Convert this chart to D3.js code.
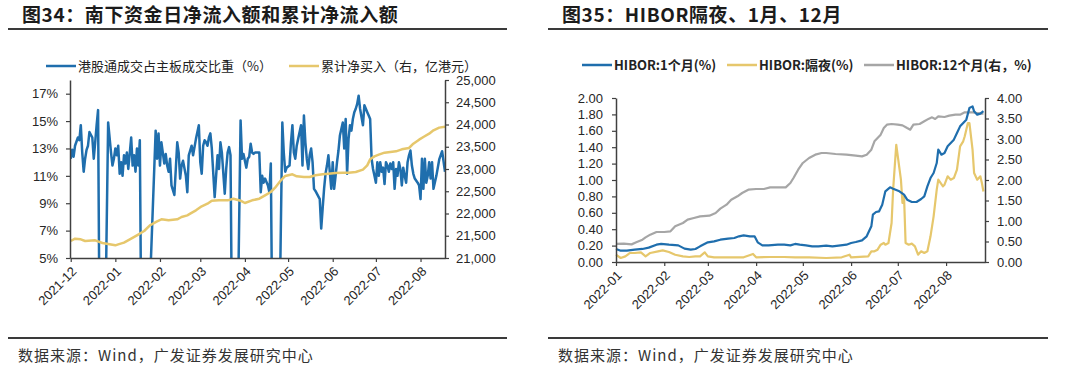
<!DOCTYPE html>
<html>
<head>
<meta charset="utf-8">
<script src="https://cdn.jsdelivr.net/npm/d3@7"></script>
<style>
body { margin: 0; background: #fff; }
svg { display: block; }
</style>
</head>
<body>
<svg id="chart" width="1080" height="375"></svg>
<script>
// ---- data: left panel (图34) ----
var shareSeries = [
	["2021-12-01",12.25],["2021-12-02",12.9],["2021-12-03",12.4],["2021-12-04",13.2],["2021-12-06",13.8],["2021-12-07",13.6],
	["2021-12-08",14.7],["2021-12-09",12.7],["2021-12-10",11.3],["2021-12-11",12.25],["2021-12-12",12.9],["2021-12-13",13.2],
	["2021-12-14",14.2],["2021-12-16",13.8],["2021-12-17",12.25],["2021-12-18",13.45],["2021-12-19",14.7],["2021-12-20",15.8],
	["2021-12-21",0],["2021-12-25",0],["2021-12-27",14.9],["2021-12-29",12.7],["2021-12-30",11.75],["2021-12-31",12.25],
	["2022-01-01",13.0],["2022-01-02",12.5],["2022-01-03",13.2],["2022-01-04",11.15],["2022-01-05",12.0],["2022-01-06",11.0],
	["2022-01-07",12.5],["2022-01-08",11.9],["2022-01-09",12.7],["2022-01-10",11.5],["2022-01-12",13.8],["2022-01-13",11.75],
	["2022-01-14",12.5],["2022-01-15",11.3],["2022-01-16",13.0],["2022-01-17",11.75],["2022-01-18",13.6],["2022-01-19",0],
	["2022-01-24",0],["2022-01-29",14.3],["2022-01-30",12.25],["2022-01-31",14.1],
	["2022-02-01",11.75],["2022-02-02",13.45],["2022-02-04",11.9],["2022-02-05",12.6],["2022-02-06",11.75],["2022-02-07",11.3],
	["2022-02-08",12.25],["2022-02-09",10.3],["2022-02-11",9.6],["2022-02-12",11.5],["2022-02-13",13.45],["2022-02-14",12.7],
	["2022-02-15",10.8],["2022-02-16",11.75],["2022-02-17",12.1],["2022-02-19",11.0],["2022-02-20",9.8],["2022-02-21",12.5],
	["2022-02-23",13.2],["2022-02-24",12.5],["2022-02-25",13.1],["2022-02-26",13.7],["2022-02-28",14.7],
	["2022-03-01",12.0],["2022-03-02",11.15],["2022-03-03",13.2],["2022-03-04",13.6],["2022-03-05",13.45],["2022-03-06",13.2],
	["2022-03-07",13.8],["2022-03-08",14.1],["2022-03-09",13.0],["2022-03-11",9.45],["2022-03-12",11.0],["2022-03-13",12.5],
	["2022-03-14",11.5],["2022-03-15",13.45],["2022-03-16",12.7],["2022-03-18",9.7],["2022-03-19",11.5],["2022-03-20",12.7],
	["2022-03-21",13.1],["2022-03-22",12.5],["2022-03-23",0],["2022-03-27",0],["2022-03-29",15.05],["2022-03-30",12.25],
	["2022-03-31",12.6],
	["2022-04-02",11.6],["2022-04-03",12.25],["2022-04-04",12.4],["2022-04-05",13.35],["2022-04-06",12.7],["2022-04-07",12.6],
	["2022-04-08",12.7],["2022-04-10",12.7],["2022-04-11",12.7],["2022-04-12",9.8],["2022-04-13",11.0],["2022-04-14",10.5],
	["2022-04-15",10.8],["2022-04-17",10.3],["2022-04-18",9.8],["2022-04-19",11.9],["2022-04-20",0],["2022-04-25",0],
	["2022-04-27",14.9],["2022-04-28",12.7],["2022-04-29",11.3],["2022-04-30",11.6],
	["2022-05-02",11.75],["2022-05-03",13.45],["2022-05-04",14.7],["2022-05-05",12.7],["2022-05-06",12.25],["2022-05-07",13.2],
	["2022-05-08",13.7],["2022-05-10",14.7],["2022-05-11",11.75],["2022-05-12",15.4],["2022-05-13",13.45],["2022-05-14",12.25],
	["2022-05-15",11.5],["2022-05-16",12.5],["2022-05-17",13.0],["2022-05-18",12.0],["2022-05-19",10.05],["2022-05-20",9.9],
	["2022-05-21",9.7],["2022-05-23",9.3],["2022-05-24",7.15],["2022-05-25",8.6],["2022-05-26",10.05],["2022-05-27",11.15],
	["2022-05-28",11.75],["2022-05-29",12.5],["2022-05-31",10.05],
	["2022-06-01",12.0],["2022-06-02",10.05],["2022-06-03",11.0],["2022-06-04",12.0],["2022-06-05",12.85],["2022-06-06",13.95],
	["2022-06-08",14.9],["2022-06-09",13.0],["2022-06-10",15.15],["2022-06-11",11.15],["2022-06-12",13.7],["2022-06-13",14.7],
	["2022-06-14",14.3],["2022-06-15",15.15],["2022-06-16",15.65],["2022-06-17",15.9],["2022-06-18",16.25],["2022-06-19",16.85],
	["2022-06-20",15.9],["2022-06-22",14.7],["2022-06-23",16.15],["2022-06-24",15.9],["2022-06-25",15.65],["2022-06-26",15.4],
	["2022-06-27",15.15],["2022-06-28",12.25],["2022-06-29",11.5],["2022-06-30",11.0],
	["2022-07-01",10.5],["2022-07-02",12.0],["2022-07-03",11.0],["2022-07-04",12.0],["2022-07-05",11.3],["2022-07-06",11.6],
	["2022-07-07",10.4],["2022-07-08",12.0],["2022-07-09",11.75],["2022-07-10",11.3],["2022-07-11",11.9],["2022-07-12",11.5],
	["2022-07-13",12.0],["2022-07-14",10.05],["2022-07-15",11.5],["2022-07-16",11.0],["2022-07-17",12.0],["2022-07-18",11.5],
	["2022-07-19",10.3],["2022-07-20",11.6],["2022-07-21",11.0],["2022-07-22",10.5],["2022-07-23",12.0],["2022-07-24",12.5],
	["2022-07-25",12.85],["2022-07-26",11.75],["2022-07-27",11.15],["2022-07-28",10.8],["2022-07-30",10.5],["2022-07-31",10.3],
	["2022-08-01",9.3],["2022-08-02",12.25],["2022-08-03",10.05],["2022-08-04",12.25],["2022-08-05",10.5],["2022-08-06",11.0],
	["2022-08-07",12.0],["2022-08-08",10.8],["2022-08-09",12.0],["2022-08-10",10.05],["2022-08-12",11.0],["2022-08-14",12.2],
	["2022-08-16",12.8],["2022-08-18",11.3]
];

var netBuySeries = [
	["2021-12-01",21382],["2021-12-04",21434],["2021-12-08",21420],["2021-12-11",21382],["2021-12-18",21397],["2021-12-23",21337],
	["2021-12-28",21307],["2022-01-01",21285],["2022-01-03",21307],["2022-01-07",21345],["2022-01-12",21434],["2022-01-16",21509],
	["2022-01-21",21607],["2022-01-25",21734],["2022-01-30",21824],["2022-02-02",21869],["2022-02-07",21846],["2022-02-13",21869],
	["2022-02-16",21921],["2022-02-20",21959],["2022-02-22",21996],["2022-02-26",22071],["2022-03-02",22161],["2022-03-06",22221],
	["2022-03-09",22288],["2022-03-14",22296],["2022-03-20",22296],["2022-03-24",22333],["2022-03-29",22288],["2022-04-01",22236],
	["2022-04-06",22296],["2022-04-11",22333],["2022-04-15",22408],["2022-04-19",22483],["2022-04-22",22580],["2022-04-26",22745],
	["2022-04-29",22843],["2022-05-04",22880],["2022-05-07",22835],["2022-05-12",22820],["2022-05-16",22820],["2022-05-20",22858],
	["2022-05-25",22880],["2022-05-29",22895],["2022-06-03",22910],["2022-06-08",22917],["2022-06-12",22917],["2022-06-17",22932],
	["2022-06-22",22985],["2022-06-25",23082],["2022-06-27",23217],["2022-06-30",23284],["2022-07-03",23322],["2022-07-07",23367],
	["2022-07-11",23382],["2022-07-15",23397],["2022-07-19",23442],["2022-07-24",23472],["2022-07-27",23569],["2022-07-31",23659],
	["2022-08-03",23719],["2022-08-07",23794],["2022-08-10",23869],["2022-08-14",23930],["2022-08-18",23950]
];

var leftMonths = ["2021-12-01","2022-01-01","2022-02-01","2022-03-01","2022-04-01","2022-05-01","2022-06-01","2022-07-01","2022-08-01"];
var shareTicks = [5, 7, 9, 11, 13, 15, 17];
var netBuyTicks = [21000, 21500, 22000, 22500, 23000, 23500, 24000, 24500, 25000];

// ---- data: right panel (图35) ----
var hibor1m = [
	["2022-01-01",0.159],["2022-01-04",0.138],["2022-01-08",0.138],["2022-01-13",0.150],["2022-01-18",0.159],["2022-01-22",0.175],
	["2022-01-27",0.211],["2022-01-30",0.220],["2022-02-04",0.211],["2022-02-10",0.203],["2022-02-14",0.163],["2022-02-18",0.150],
	["2022-02-21",0.159],["2022-02-24",0.191],["2022-03-01",0.240],["2022-03-05",0.252],["2022-03-09",0.272],["2022-03-14",0.285],
	["2022-03-18",0.293],["2022-03-21",0.313],["2022-03-24",0.325],["2022-03-28",0.313],["2022-03-31",0.313],["2022-04-02",0.240],
	["2022-04-05",0.203],["2022-04-09",0.203],["2022-04-15",0.211],["2022-04-19",0.211],["2022-04-23",0.203],["2022-04-26",0.220],
	["2022-04-29",0.211],["2022-05-03",0.203],["2022-05-07",0.191],["2022-05-11",0.191],["2022-05-16",0.199],["2022-05-20",0.191],
	["2022-05-24",0.199],["2022-05-29",0.211],["2022-06-01",0.232],["2022-06-04",0.244],["2022-06-08",0.264],["2022-06-11",0.313],
	["2022-06-14",0.435],["2022-06-15",0.577],["2022-06-17",0.610],["2022-06-19",0.618],["2022-06-21",0.699],["2022-06-23",0.862],
	["2022-06-26",0.911],["2022-06-28",0.894],["2022-07-02",0.862],["2022-07-05",0.821],["2022-07-07",0.760],["2022-07-10",0.732],
	["2022-07-13",0.732],["2022-07-16",0.768],["2022-07-18",0.801],["2022-07-20",0.923],["2022-07-22",1.024],["2022-07-24",1.085],
	["2022-07-26",1.207],["2022-07-27",1.370],["2022-07-29",1.309],["2022-07-31",1.329],["2022-08-02",1.411],["2022-08-04",1.451],
	["2022-08-06",1.492],["2022-08-08",1.573],["2022-08-10",1.654],["2022-08-12",1.695],["2022-08-14",1.736],["2022-08-16",1.878],
	["2022-08-18",1.898],["2022-08-19",1.837],["2022-08-21",1.797],["2022-08-23",1.809],["2022-08-24",1.825],["2022-08-25",1.84]
];

var hiborON = [
	["2022-01-01",0.089],["2022-01-04",0.049],["2022-01-07",0.069],["2022-01-10",0.110],["2022-01-13",0.110],["2022-01-17",0.118],
	["2022-01-20",0.069],["2022-01-23",0.110],["2022-01-28",0.130],["2022-01-31",0.142],["2022-02-04",0.122],["2022-02-08",0.089],
	["2022-02-13",0.069],["2022-02-17",0.061],["2022-02-21",0.069],["2022-02-24",0.069],["2022-02-27",0.118],["2022-03-01",0.069],
	["2022-03-05",0.057],["2022-03-14",0.057],["2022-03-24",0.057],["2022-03-30",0.098],["2022-04-01",0.057],["2022-04-10",0.061],
	["2022-04-19",0.061],["2022-04-26",0.057],["2022-05-05",0.057],["2022-05-16",0.049],["2022-05-26",0.057],["2022-05-31",0.089],
	["2022-06-01",0.057],["2022-06-12",0.069],["2022-06-14",0.130],["2022-06-16",0.130],["2022-06-18",0.150],["2022-06-20",0.211],
	["2022-06-22",0.232],["2022-06-23",0.211],["2022-06-25",0.232],["2022-06-27",0.476],["2022-06-28",0.882],["2022-06-30",1.430],
	["2022-07-01",1.289],["2022-07-03",1.004],["2022-07-04",0.720],["2022-07-05",0.801],["2022-07-06",0.232],["2022-07-08",0.211],
	["2022-07-10",0.224],["2022-07-12",0.191],["2022-07-14",0.089],["2022-07-16",0.130],["2022-07-18",0.110],["2022-07-20",0.130],
	["2022-07-22",0.313],["2022-07-24",0.557],["2022-07-26",0.882],["2022-07-27",1.004],["2022-07-30",0.923],["2022-07-31",0.943],
	["2022-08-02",1.045],["2022-08-04",1.004],["2022-08-06",1.024],["2022-08-08",1.126],["2022-08-10",1.411],["2022-08-12",1.472],
	["2022-08-13",1.533],["2022-08-15",1.695],["2022-08-16",1.695],["2022-08-18",1.370],["2022-08-19",1.085],["2022-08-21",1.004],
	["2022-08-23",1.045],["2022-08-24",0.963],["2022-08-25",0.86]
];

var hibor12m = [
	["2022-01-01",0.44],["2022-01-06",0.45],["2022-01-11",0.43],["2022-01-14",0.48],["2022-01-18",0.545],["2022-01-20",0.60],
	["2022-01-23",0.667],["2022-01-27",0.732],["2022-02-01",0.732],["2022-02-05",0.748],["2022-02-08",0.870],["2022-02-13",0.951],
	["2022-02-16",1.033],["2022-02-20",1.073],["2022-02-24",1.114],["2022-03-02",1.130],["2022-03-06",1.195],["2022-03-09",1.301],
	["2022-03-13",1.398],["2022-03-16",1.520],["2022-03-20",1.602],["2022-03-23",1.683],["2022-03-27",1.764],["2022-04-01",1.780],
	["2022-04-06",1.780],["2022-04-10",1.821],["2022-04-15",1.821],["2022-04-20",1.821],["2022-04-23",1.927],["2022-04-25",2.049],
	["2022-04-28",2.252],["2022-05-01",2.415],["2022-05-05",2.537],["2022-05-09",2.618],["2022-05-13",2.659],["2022-05-16",2.659],
	["2022-05-22",2.634],["2022-05-29",2.618],["2022-06-04",2.593],["2022-06-08",2.577],["2022-06-11",2.618],["2022-06-14",2.740],
	["2022-06-16",2.943],["2022-06-18",3.024],["2022-06-20",3.106],["2022-06-22",3.268],["2022-06-24",3.350],["2022-06-27",3.366],
	["2022-07-01",3.350],["2022-07-04",3.333],["2022-07-07",3.268],["2022-07-09",3.228],["2022-07-11",3.350],["2022-07-15",3.366],
	["2022-07-18",3.431],["2022-07-21",3.496],["2022-07-23",3.528],["2022-07-25",3.488],["2022-07-27",3.553],["2022-07-31",3.537],
	["2022-08-03",3.569],["2022-08-07",3.593],["2022-08-10",3.593],["2022-08-13",3.650],["2022-08-18",3.650],["2022-08-21",3.634],
	["2022-08-24",3.618],["2022-08-25",3.62]
];

var rightMonths = ["2022-01-01","2022-02-01","2022-03-01","2022-04-01","2022-05-01","2022-06-01","2022-07-01","2022-08-01"];
var hiborTicks = [0, 0.2, 0.4, 0.6, 0.8, 1.0, 1.2, 1.4, 1.6, 1.8, 2.0];
var hibor12Ticks = [0, 0.5, 1.0, 1.5, 2.0, 2.5, 3.0, 3.5, 4.0];

var colors = {
	"blue" : "#1f6ead",
	"gold" : "#e6c76c",
	"gray" : "#a6a6a6",
	"text" : "#262626",
	"axis" : "#404040"
};
var latin = "'Liberation Sans', Arial, sans-serif";
var cjk = "'Noto Sans CJK SC', 'Liberation Sans', sans-serif";

var parse = d3.timeParse("%Y-%m-%d");
var monthFmt = d3.timeFormat("%Y-%m");
var svg = d3.select("#chart");

function header(x0, x1, tx, title) {
	svg.append("text")
		.attr("x", tx).attr("y", 22)
		.attr("font-family", cjk)
		.attr("font-size", "19px")
		.attr("font-weight", "bold")
		.attr("letter-spacing", "0.6px")
		.style("fill", "#1b1b1b")
		.text(title);
	svg.append("line")
		.attr("x1", x0).attr("x2", x1).attr("y1", 29).attr("y2", 29)
		.style("stroke", "#3a3a3a").style("stroke-width", 2);
	svg.append("line")
		.attr("x1", x0).attr("x2", x1).attr("y1", 338).attr("y2", 338)
		.style("stroke", "#3a3a3a").style("stroke-width", 2);
	svg.append("text")
		.attr("x", tx - 4).attr("y", 361)
		.attr("font-family", cjk)
		.attr("font-size", "15px")
		.attr("letter-spacing", "1px")
		.style("fill", "#333")
		.text("数据来源：Wind，广发证券发展研究中心");
}

function legendItem(x, y, color, label, bold) {
	svg.append("line")
		.attr("x1", x).attr("x2", x + 30).attr("y1", y).attr("y2", y)
		.style("stroke", color).style("stroke-width", 2.5);
	svg.append("text")
		.attr("x", x + 32).attr("y", y)
		.attr("dy", "0.35em")
		.attr("font-family", cjk)
		.attr("font-size", "13px")
		.attr("font-weight", bold ? "bold" : "normal")
		.style("fill", "#222")
		.text(label);
}

function styleAxis(g) {
	g.selectAll("path.domain").style("stroke", colors.axis).style("stroke-width", 1.5);
	g.selectAll(".tick line").style("stroke", colors.axis).style("stroke-width", 1.2);
	g.selectAll("text")
		.attr("font-family", latin)
		.attr("font-size", "13px")
		.style("fill", colors.text);
}

function xAxis(x, y0, months) {
	var g = svg.append("g")
		.attr("transform", "translate(0," + y0 + ")")
		.call(d3.axisBottom(x)
			.tickValues(months.map(parse))
			.tickFormat(monthFmt)
			.tickSize(4)
			.tickSizeOuter(0));
	styleAxis(g);
	g.selectAll("text")
		.attr("x", 0).attr("y", 0).attr("dy", "0.35em")
		.attr("text-anchor", "end")
		.attr("transform", "translate(3,11) rotate(-45)");
}

function drawLine(series, x, y, color, width, clip) {
	var line = d3.line()
		.x(function (d) { return x(parse(d[0])); })
		.y(function (d) { return y(d[1]); });
	var p = svg.append("path")
		.datum(series)
		.attr("d", line)
		.style("fill", "none")
		.style("stroke", color)
		.style("stroke-width", width)
		.style("stroke-linejoin", "round");
	if (clip) p.attr("clip-path", "url(#" + clip + ")");
}

// ================= left panel =================
header(8, 507, 22, "图34：南下资金日净流入额和累计净流入额");
legendItem(46, 66, colors.blue, "港股通成交占主板成交比重（%）", false);
legendItem(289, 66, colors.gold, "累计净买入（右，亿港元）", false);

var L = { left: 70, right: 445, top: 80, bottom: 258 };
var xL = d3.scaleTime()
	.domain([new Date(2021, 10, 30, 12), new Date(2022, 7, 18)])
	.range([L.left, L.right]);
var yShare = d3.scaleLinear().domain([5, 18]).range([L.bottom, L.top]);
var yNet = d3.scaleLinear().domain([21000, 25000]).range([L.bottom, L.top]);

svg.append("clipPath").attr("id", "clipL")
	.append("rect")
	.attr("x", L.left).attr("y", L.top)
	.attr("width", L.right - L.left).attr("height", L.bottom - L.top);

drawLine(shareSeries, xL, yShare, colors.blue, 2.5, "clipL");
drawLine(netBuySeries, xL, yNet, colors.gold, 2.5, "clipL");

var gl = svg.append("g")
	.attr("transform", "translate(" + L.left + ",0)")
	.call(d3.axisLeft(yShare).tickValues(shareTicks)
		.tickFormat(function (d) { return d + "%"; })
		.tickSize(4).tickPadding(8).tickSizeOuter(0));
styleAxis(gl);
var gr = svg.append("g")
	.attr("transform", "translate(" + L.right + ",0)")
	.call(d3.axisRight(yNet).tickValues(netBuyTicks)
		.tickFormat(d3.format(","))
		.tickSize(4).tickPadding(7).tickSizeOuter(0));
styleAxis(gr);
xAxis(xL, L.bottom, leftMonths);

// ================= right panel =================
header(548, 1048, 562, "图35：HIBOR隔夜、1月、12月");
legendItem(582, 65, colors.blue, "HIBOR:1个月(%)", true);
legendItem(727, 65, colors.gold, "HIBOR:隔夜(%)", true);
legendItem(864, 65, colors.gray, "HIBOR:12个月(右，%)", true);

var R = { left: 616, right: 985, top: 98, bottom: 262 };
var xR = d3.scaleTime()
	.domain([new Date(2022, 0, 1), new Date(2022, 7, 26)])
	.range([R.left, R.right]);
var yH = d3.scaleLinear().domain([0, 2]).range([R.bottom, R.top]);
var yH12 = d3.scaleLinear().domain([0, 4]).range([R.bottom, R.top]);

drawLine(hibor12m, xR, yH12, colors.gray, 2.2);
drawLine(hiborON, xR, yH, colors.gold, 2.2);
drawLine(hibor1m, xR, yH, colors.blue, 2.2);

var hl = svg.append("g")
	.attr("transform", "translate(" + R.left + ",0)")
	.call(d3.axisLeft(yH).tickValues(hiborTicks)
		.tickFormat(d3.format(".2f"))
		.tickSize(4).tickPadding(9).tickSizeOuter(0));
styleAxis(hl);
var hr = svg.append("g")
	.attr("transform", "translate(" + R.right + ",0)")
	.call(d3.axisRight(yH12).tickValues(hibor12Ticks)
		.tickFormat(d3.format(".2f"))
		.tickSize(4).tickPadding(8).tickSizeOuter(0));
styleAxis(hr);
xAxis(xR, R.bottom, rightMonths);
</script>
</body>
</html>
